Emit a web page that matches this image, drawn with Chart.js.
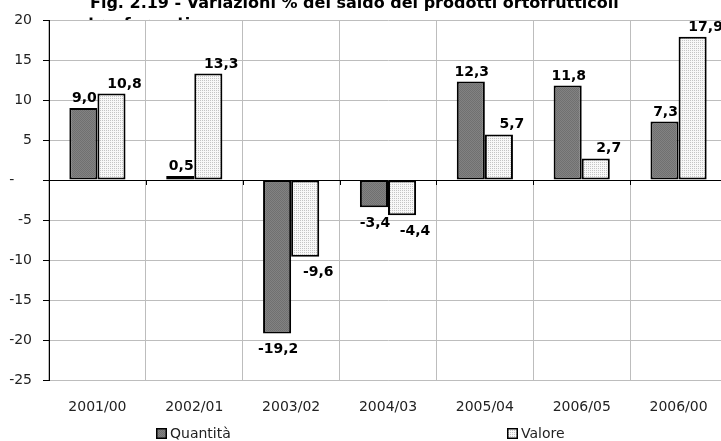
<!DOCTYPE html>
<html>
<head>
<meta charset="utf-8">
<script src="https://cdn.jsdelivr.net/npm/chart.js@4.4.1/dist/chart.umd.min.js"></script>
<style>
  html, body { margin: 0; padding: 0; background: #fff; }
  #wrap { width: 721px; height: 441px; overflow: hidden; position: relative; }
  canvas { display: block; }
</style>
</head>
<body>
<div id="wrap"><canvas id="chart" width="740" height="441"></canvas></div>
<script>
const categories = ["2001/00", "2002/01", "2003/02", "2004/03", "2005/04", "2006/05", "2006/00"];
const quantita = [9.0, 0.5, -19.2, -3.4, 12.3, 11.8, 7.3];
const valore = [10.8, 13.3, -9.6, -4.4, 5.7, 2.7, 17.9];
const seriesNames = ["Quantità", "Valore"];
const titleLines = ["Fig. 2.19 - Variazioni % del saldo dei prodotti ortofrutticoli", "trasformati"];
const yMin = -25, yMax = 20, yStep = 5;

function makePattern(size, bg, fg, dots) {
  const c = document.createElement("canvas");
  c.width = size;
  c.height = size;
  const g = c.getContext("2d");
  g.fillStyle = bg;
  g.fillRect(0, 0, size, size);
  g.fillStyle = fg;
  dots.forEach(d => g.fillRect(d[0], d[1], 1, 1));
  return g.createPattern(c, "repeat");
}

const grayFill = makePattern(2, "#828282", "#707070", [[0, 0], [1, 1]]);
const dotFill = makePattern(2, "#f8f8f8", "#c4c4c4", [[0, 0]]);

function fmt(v) {
  return v.toFixed(1).replace(".", ",");
}

// title behind the plot area, then white plot background
const backdrop = {
  id: "backdrop",
  beforeDraw(chart) {
    const ctx = chart.ctx;
    const a = chart.chartArea;
    ctx.save();
    ctx.fillStyle = "#fff";
    ctx.fillRect(0, 0, chart.width, chart.height);
    ctx.fillStyle = "#000";
    ctx.font = "bold 16px 'DejaVu Sans'";
    ctx.textAlign = "left";
    ctx.textBaseline = "alphabetic";
    ctx.fillText(titleLines[0], 90, 8);
    ctx.fillText(titleLines[1], 88, 29);
    ctx.fillStyle = "#fff";
    ctx.fillRect(a.left, a.top, a.right - a.left, a.bottom - a.top);
    ctx.restore();
  },
  beforeDatasetsDraw(chart) {
    // small marks on the zero line at category boundaries
    const ctx = chart.ctx;
    const x = chart.scales.x;
    const y0 = chart.scales.y.getPixelForValue(0);
    const w = (x.right - x.left) / categories.length;
    ctx.save();
    ctx.strokeStyle = "#000";
    ctx.lineWidth = 1;
    for (let i = 1; i < categories.length; i++) {
      const px = Math.round(x.left + i * w) + 0.5;
      ctx.beginPath();
      ctx.moveTo(px, y0);
      ctx.lineTo(px, y0 + 5);
      ctx.stroke();
    }
    ctx.restore();
  }
};

const valueLabels = {
  id: "valueLabels",
  afterDatasetsDraw(chart) {
    const ctx = chart.ctx;
    ctx.save();
    ctx.fillStyle = "#000";
    ctx.font = "bold 14px 'DejaVu Sans'";
    ctx.textAlign = "center";
    chart.data.datasets.forEach((ds, di) => {
      const shift = di === 0 ? 1 : 13;
      chart.getDatasetMeta(di).data.forEach((bar, i) => {
        const v = ds.data[i];
        if (v >= 0) {
          ctx.textBaseline = "alphabetic";
          ctx.fillText(fmt(v), bar.x + shift, bar.y - 6);
        } else {
          ctx.textBaseline = "top";
          ctx.fillText(fmt(v), bar.x + shift, bar.y + 9);
        }
      });
    });
    ctx.restore();
  }
};

const legendRow = {
  id: "legendRow",
  afterDraw(chart) {
    const ctx = chart.ctx;
    const spots = [156, 507];
    ctx.save();
    ctx.font = "14px 'DejaVu Sans'";
    ctx.textBaseline = "middle";
    ctx.textAlign = "left";
    chart.data.datasets.forEach((ds, i) => {
      ctx.fillStyle = ds.backgroundColor;
      ctx.fillRect(spots[i], 428, 11, 11);
      ctx.strokeStyle = "#000";
      ctx.lineWidth = 1.5;
      ctx.strokeRect(spots[i] + 0.75, 428.75, 9.5, 9.5);
      ctx.fillStyle = "#222";
      ctx.fillText(ds.label, spots[i] + 14, 434);
    });
    ctx.restore();
  }
};

new Chart(document.getElementById("chart"), {
  type: "bar",
  data: {
    labels: categories,
    datasets: [
      {
        label: seriesNames[0],
        data: quantita,
        backgroundColor: grayFill,
        borderColor: "#000",
        borderWidth: 2,
        borderSkipped: false
      },
      {
        label: seriesNames[1],
        data: valore,
        backgroundColor: dotFill,
        borderColor: "#000",
        borderWidth: 2,
        borderSkipped: false
      }
    ]
  },
  options: {
    responsive: false,
    animation: false,
    devicePixelRatio: 1,
    layout: { padding: { top: 20, right: 13, left: 0, bottom: 0 } },
    datasets: { bar: { categoryPercentage: 0.58, barPercentage: 1.0 } },
    plugins: {
      legend: { display: false },
      title: { display: false },
      tooltip: { enabled: false }
    },
    scales: {
      x: {
        afterFit(scale) { scale.height = 61; },
        grid: { color: "#bdbdbd", drawTicks: false, offset: true },
        border: { color: "#bdbdbd" },
        ticks: { color: "#222", padding: 19, font: { family: "DejaVu Sans", size: 14 } }
      },
      y: {
        min: yMin,
        max: yMax,
        afterFit(scale) { scale.width = 49; },
        grid: {
          color: ctx => (ctx.tick && ctx.tick.value === 0 ? "#000" : "#bdbdbd"),
          tickColor: "#000",
          tickLength: 6
        },
        border: { color: "#000", width: 1 },
        ticks: {
          stepSize: yStep,
          color: "#222",
          padding: 11,
          font: { family: "DejaVu Sans", size: 14 },
          callback: v => (v === 0 ? "-    " : String(v))
        }
      }
    }
  },
  plugins: [backdrop, valueLabels, legendRow]
});
</script>
</body>
</html>
